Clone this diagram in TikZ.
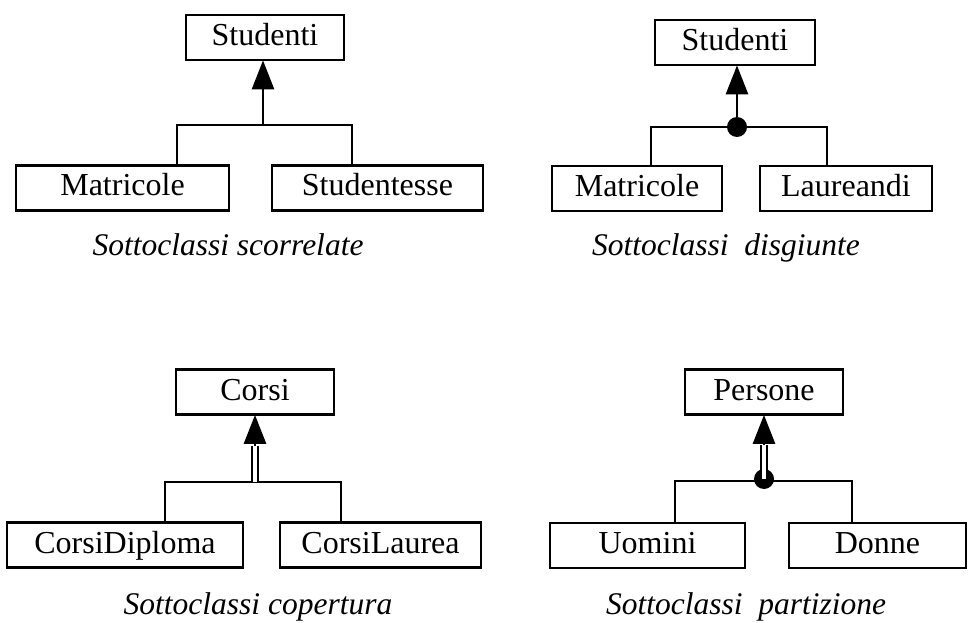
\documentclass[tikz,border=0pt]{standalone}
\usepackage{fontspec}
\setmainfont{Liberation Serif}
\usetikzlibrary{arrows.meta}

\tikzset{
  cls/.style={draw, line width=2.8pt, inner sep=0pt, minimum height=45pt,
    text height=24pt, text depth=8pt, font=\fontsize{32}{38}\selectfont},
  link/.style={line width=2.8pt},
  isa/.style={line width=2.8pt, -{Triangle[length=29pt,width=22pt]}, shorten >=-1pt},
  dbl/.style={double, double distance=3.4pt, line width=2.2pt},
  joint/.style={circle, fill, inner sep=0pt, minimum size=20pt},
  caption/.style={anchor=base, inner sep=0pt, font=\fontsize{31.5}{37}\selectfont\itshape}
}

\begin{document}
\begin{tikzpicture}[x=1pt, y=-1pt]
\useasboundingbox (0,0) rectangle (975,623);

% ---- scorrelate ----
\node[cls, minimum width=158pt] (s1) at (265,37.5) {Studenti};
\node[cls, minimum width=213pt] (m1) at (122.5,188) {Matricole};
\node[cls, minimum width=211pt] (f1) at (377.5,188) {Studentesse};
\coordinate (j1) at (263,125);
\coordinate (l1) at (177,125);
\coordinate (r1) at (352,125);
\draw[link] (l1 |- m1.north) -- (l1) -- (r1) -- (r1 |- f1.north);
\draw[isa] (j1) -- (j1 |- s1.south);
\node[caption] (t1) at (228,255) {Sottoclassi scorrelate};

% ---- disgiunte ----
\node[cls, minimum width=160pt] (s2) at (735,42.5) {Studenti};
\node[cls, minimum width=170pt] (m2) at (637,188.5) {Matricole};
\node[cls, minimum width=172pt] (g2) at (846,188.5) {Laureandi};
\coordinate (l2) at (651,127);
\coordinate (r2) at (827,127);
\draw[link] (l2 |- m2.north) -- (l2) -- (r2) -- (r2 |- g2.north);
\node[joint] (d2) at (737,127) {};
\draw[isa] (d2.center) -- (d2.center |- s2.south);
\node[caption] (t2) at (726,255) {Sottoclassi~~disgiunte};

% ---- copertura ----
\node[cls, minimum width=158pt] (c3) at (255,392) {Corsi};
\node[cls, minimum width=236pt] (p3) at (125,545) {CorsiDiploma};
\node[cls, minimum width=201pt] (q3) at (380.5,545) {CorsiLaurea};
\coordinate (j3) at (255,482);
\coordinate (b3) at (255,446);
\coordinate (l3) at (165,482);
\coordinate (r3) at (341,482);
\draw[link] (l3 |- p3.north) -- (l3) -- (r3) -- (r3 |- q3.north);
\draw[dbl] (j3) -- (b3);
\draw[isa] (b3) -- (b3 |- c3.south);
\node[caption] (t3) at (258,614) {Sottoclassi copertura};

% ---- partizione ----
\node[cls, minimum width=158pt] (c4) at (764,392) {Persone};
\node[cls, minimum width=195pt] (u4) at (647.5,545.5) {Uomini};
\node[cls, minimum width=177pt] (w4) at (877.5,545.5) {Donne};
\coordinate (l4) at (675,481);
\coordinate (r4) at (852,481);
\draw[link] (l4 |- u4.north) -- (l4) -- (r4) -- (r4 |- w4.north);
\node[joint] (d4) at (764,479) {};
\coordinate (b4) at (764,445);
\draw[dbl] (d4.center) -- (b4);
\draw[isa] (b4) -- (b4 |- c4.south);
\node[caption] (t4) at (746,614) {Sottoclassi~~partizione};
\end{tikzpicture}
\end{document}
